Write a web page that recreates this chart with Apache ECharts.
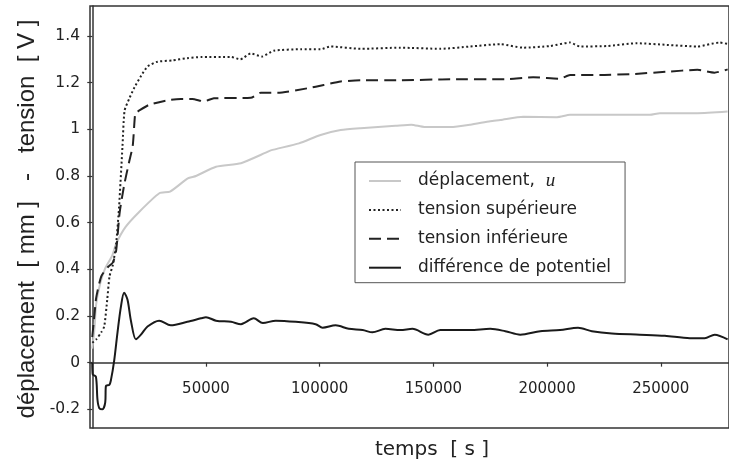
<!DOCTYPE html>
<html>
<head>
<meta charset="utf-8">
<script src="https://cdn.jsdelivr.net/npm/echarts@6/dist/echarts.min.js"></script>
<style>html,body{margin:0;padding:0;background:#fff}#c{width:729px;height:466px}</style>
</head>
<body>
<div id="c"></div>
<script>
// ---- data (time in s, values in mm / V) ----
const seriesNames = ['déplacement, u', 'tension supérieure', 'tension inférieure', 'différence de potentiel'];

const dispT = [0,1000,1700,3500,5500,8800,10500,14500,20500,29500,34200,42000,45600,54400,65400,76300,78500,90900,100400,109200,118000,133300,140300,146000,157500,166200,175000,179400,189500,204400,210100,245200,249600,266100,279400];
const dispV = [0.06,0.15,0.25,0.34,0.40,0.46,0.51,0.58,0.645,0.726,0.733,0.79,0.80,0.84,0.855,0.90,0.91,0.94,0.976,0.997,1.005,1.015,1.02,1.01,1.01,1.02,1.035,1.04,1.054,1.052,1.062,1.062,1.069,1.069,1.076];

const supT = [0,1750,3950,5260,6580,7590,9080,10500,11800,13300,14200,16200,18550,21500,24400,28700,35100,41700,47800,61000,65100,69700,74600,79800,91700,100400,104800,118000,135500,153100,166200,179400,189500,201300,210100,214500,226300,239500,252600,265800,275900,279400];
const supV = [0.085,0.10,0.13,0.155,0.27,0.37,0.42,0.51,0.67,0.93,1.08,1.13,1.18,1.23,1.27,1.29,1.295,1.305,1.31,1.31,1.30,1.325,1.312,1.337,1.343,1.343,1.355,1.345,1.35,1.345,1.355,1.365,1.35,1.357,1.372,1.355,1.357,1.369,1.362,1.355,1.372,1.366];

const infT = [0,1000,1750,3950,6900,9080,10500,12000,14000,16200,17800,18900,19900,25000,33800,39000,44000,49100,53500,69700,74100,81600,94700,101800,109200,118000,135500,157500,181600,193900,205700,210100,223300,237700,252600,266100,273600,279400];
const infV = [0.11,0.21,0.28,0.37,0.41,0.43,0.48,0.64,0.76,0.86,0.93,1.07,1.076,1.105,1.126,1.13,1.13,1.12,1.133,1.135,1.157,1.157,1.176,1.19,1.205,1.21,1.21,1.215,1.215,1.223,1.217,1.233,1.233,1.237,1.247,1.255,1.243,1.257];

const diffT = [0,200,1600,2300,3100,4500,5700,6000,7500,8200,9650,11100,12600,14000,15500,17000,19200,21400,24300,29400,34500,41800,47800,50000,54400,61000,65400,71000,75000,80700,89500,98200,101300,107000,112800,118900,123200,128900,135500,140800,147800,153000,166200,175000,181600,188200,197000,205700,213600,219700,228500,240800,251800,262800,269300,273700,279400];
const diffV = [0.0,-0.05,-0.06,-0.16,-0.195,-0.20,-0.17,-0.10,-0.095,-0.075,0.01,0.13,0.24,0.30,0.27,0.18,0.10,0.12,0.155,0.18,0.16,0.175,0.19,0.195,0.18,0.175,0.165,0.19,0.17,0.18,0.175,0.165,0.15,0.16,0.145,0.14,0.13,0.145,0.14,0.145,0.12,0.14,0.14,0.145,0.135,0.12,0.135,0.14,0.15,0.135,0.125,0.12,0.115,0.105,0.105,0.12,0.10];

const xTicks = [50000, 100000, 150000, 200000, 250000];
const yTicks = [-0.2, 0, 0.2, 0.4, 0.6, 0.8, 1, 1.2, 1.4];
const xTitle = 'temps  [ s ]';
const yTitle = 'déplacement  [ mm ]   -   tension  [ V ]';

// ---- chart ----
const zip = (t, v) => t.slice(0, Math.min(t.length, v.length)).map((x, i) => [x, v[i]]);
const SANS = 'DejaVu Sans';
const Y_MIN = -0.28, Y_MAX = 1.5286, GRID_TOP = 6, GRID_H = 422;
// distance from bottom of grid to the y = 0 line, so the x axis sits on zero
const zeroOffset = -GRID_H * (0 - Y_MIN) / (Y_MAX - Y_MIN);

const chart = echarts.init(document.getElementById('c'), null, {renderer: 'canvas'});

chart.setOption({
  animation: false,
  backgroundColor: '#fff',
  grid: {left: 90, top: GRID_TOP, width: 640, height: GRID_H, show: true, borderColor: '#333', borderWidth: 1.5, backgroundColor: 'transparent'},
  xAxis: {
    type: 'value', min: -1000, max: 280000, position: 'bottom', offset: zeroOffset,
    axisLine: {onZero: false, lineStyle: {color: '#333', width: 1.5}},
    axisTick: {show: true, customValues: xTicks, length: 4, lineStyle: {color: '#333', width: 1.2}},
    axisLabel: {customValues: xTicks, margin: 19, color: '#222', fontFamily: SANS, fontSize: 15,
      formatter: v => String(v)},
    splitLine: {show: false}
  },
  yAxis: {
    type: 'value', min: Y_MIN, max: Y_MAX,
    axisLine: {show: true, lineStyle: {color: '#333', width: 1.5}},
    axisTick: {show: true, customValues: yTicks, length: 5, lineStyle: {color: '#333', width: 1.2}},
    axisLabel: {customValues: yTicks, margin: 10, color: '#222', fontFamily: SANS, fontSize: 15.5,
      formatter: v => String(v)},
    splitLine: {show: false}
  },
  legend: {
    orient: 'vertical', left: 355, top: 162,
    padding: [9, 14, 5, 13], itemGap: 8.9, itemWidth: 32, itemHeight: 14,
    borderColor: '#555', borderWidth: 1, backgroundColor: '#fff',
    data: seriesNames,
    itemStyle: {opacity: 0},
    formatter: n => n === seriesNames[0] ? 'déplacement,  {u|u}' : n,
    textStyle: {fontFamily: SANS, fontSize: 17, color: '#222', lineHeight: 20, padding: [0, 0, 0, 12],
      rich: {u: {fontFamily: 'Liberation Serif', fontStyle: 'italic', fontSize: 19, color: '#222'}}}
  },
  graphic: [
    {type: 'text', x: 432, y: 450, style: {text: xTitle, fill: '#222', font: '20px "DejaVu Sans"', align: 'center', verticalAlign: 'middle'}},
    {type: 'text', x: 27, y: 219, rotation: Math.PI / 2, style: {text: yTitle, fill: '#222', font: '24px "Liberation Sans"', align: 'center', verticalAlign: 'middle'}}
  ],
  series: [
    {name: seriesNames[0], type: 'line', data: zip(dispT, dispV), symbol: 'none', smooth: 0.2, z: 2,
      lineStyle: {color: '#c8c8c8', width: 2}, itemStyle: {color: '#c8c8c8'}},
    {name: seriesNames[1], type: 'line', data: zip(supT, supV), symbol: 'none', smooth: 0.2, z: 3,
      lineStyle: {color: '#222', width: 2, type: [2, 2.5]}, itemStyle: {color: '#222'}},
    {name: seriesNames[2], type: 'line', data: zip(infT, infV), symbol: 'none', smooth: 0.2, z: 3,
      lineStyle: {color: '#222', width: 2, type: [12, 6]}, itemStyle: {color: '#222'}},
    {name: seriesNames[3], type: 'line', data: zip(diffT, diffV), symbol: 'none', smooth: 0.3, z: 4,
      lineStyle: {color: '#1a1a1a', width: 2}, itemStyle: {color: '#1a1a1a'}}
  ]
});
</script>
</body>
</html>
